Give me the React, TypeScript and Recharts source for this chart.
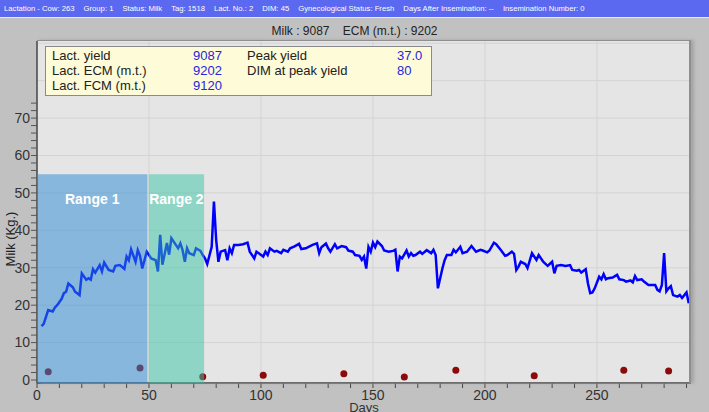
import React from "react";
import {
  ComposedChart,
  Line,
  Scatter,
  XAxis,
  YAxis,
  CartesianGrid,
  ReferenceArea,
} from "recharts";

// daily milk yield (kg)
const milkDays = [
  2, 3, 5, 7, 8, 9, 11, 12, 13, 14, 16, 17, 19, 20, 22, 23, 24, 25, 26, 28, 29, 30, 32, 34, 35, 37, 39, 40, 41, 42,
  44, 45, 46, 47, 49, 51, 53, 54, 55, 56, 58, 59, 60, 62, 63, 64, 65, 66, 67, 68, 70, 71, 73, 74, 75, 76, 78, 79, 80, 81,
  82, 84, 85, 86, 87, 88, 90, 92, 94, 95, 97, 98, 99, 101, 102, 103, 104, 106, 107, 109, 110, 112, 113, 115, 117, 118, 120, 123, 125, 126,
  127, 129, 130, 131, 133, 134, 136, 138, 139, 141, 142, 144, 145, 146, 147, 148, 149, 150, 151, 152, 154, 155, 157, 159, 160, 161, 162, 163, 165, 166,
  167, 168, 169, 171, 172, 174, 176, 177, 178, 179, 181, 182, 183, 185, 186, 187, 189, 190, 192, 194, 196, 198, 199, 201, 202, 204, 205, 207, 209, 210,
  212, 213, 214, 215, 216, 218, 219, 221, 223, 224, 226, 228, 230, 231, 232, 234, 236, 238, 239, 241, 242, 243, 245, 246, 247, 248, 249, 251, 252, 253,
  254, 255, 257, 259, 260, 262, 263, 265, 266, 267, 268, 270, 271, 273, 274, 276, 277, 278, 279, 280, 281, 282, 283, 284, 286, 287, 288, 290, 291,
];
const milkKg = [
  14.4, 15.0, 18.7, 18.3, 19.4, 20.0, 21.7, 23.2, 23.6, 25.8, 24.8, 23.6, 22.7, 28.5, 26.8, 27.2, 26.8, 29.6, 28.7, 30.7, 29.0, 31.4, 29.4, 29.0, 30.5, 30.7, 29.7, 33.0, 32.0, 34.9,
  31.6, 34.7, 33.2, 29.8, 34.3, 32.5, 32.0, 29.0, 38.8, 30.8, 36.6, 33.5, 37.9, 36.1, 35.2, 36.5, 34.7, 31.6, 35.2, 33.9, 33.4, 35.2, 34.5, 33.4, 32.5, 31.0, 35.6, 47.7, 37.4, 31.6,
  34.3, 34.7, 32.0, 35.2, 33.9, 36.1, 36.1, 36.3, 36.7, 34.3, 32.5, 34.3, 33.9, 33.0, 34.3, 33.4, 35.2, 34.3, 34.5, 33.9, 34.8, 34.3, 35.2, 35.7, 36.4, 35.0, 35.2, 36.1, 36.5, 33.9,
  35.5, 36.5, 35.2, 34.3, 36.3, 35.2, 35.8, 35.5, 34.6, 34.3, 33.4, 33.2, 32.1, 33.0, 29.8, 35.6, 34.3, 36.7, 35.5, 37.0, 35.8, 34.6, 34.3, 34.5, 34.8, 29.0, 33.0, 32.5, 34.6, 33.0,
  33.9, 33.2, 33.4, 34.3, 33.7, 34.7, 33.9, 34.8, 33.4, 24.5, 29.8, 32.0, 33.4, 33.4, 34.8, 34.1, 35.6, 33.9, 34.3, 35.8, 34.3, 34.8, 34.6, 34.1, 34.6, 36.7, 36.3, 34.8, 33.2, 33.4,
  34.3, 33.7, 29.4, 30.3, 31.6, 31.0, 29.9, 33.9, 32.1, 33.4, 31.6, 30.5, 31.6, 28.5, 30.5, 30.7, 30.5, 30.7, 29.4, 29.2, 29.4, 28.7, 29.6, 25.8, 23.2, 23.4, 24.5, 27.6, 26.9, 28.3,
  26.9, 27.2, 27.4, 28.1, 26.9, 26.7, 26.3, 26.6, 26.1, 27.8, 26.7, 26.9, 26.3, 25.4, 25.4, 25.4, 24.1, 23.7, 25.4, 33.9, 23.7, 24.5, 25.1, 22.7, 22.3, 22.7, 21.9, 23.4, 20.5,
];

// event markers near the bottom
const eventDays = [5, 46, 74, 101, 137, 164, 187, 222, 262, 282];
const eventLevels = [2.2, 3.2, 0.9, 1.25, 1.7, 0.8, 2.6, 1.15, 2.6, 2.4];

// shaded ranges
const rangeNames = ["Range 1", "Range 2"];
const rangeFrom = [0, 49.9];
const rangeTo = [49.3, 74.6];
const rangeColors = ["#2a8ad4", "#37c5a5"];
const rangeTop = 55;

const xTicks = Array.from({ length: 30 }, (_, i) => i * 10);
const yTicks = Array.from({ length: 38 }, (_, i) => i * 2);

const headerItems = [
  "Lactation - Cow: 263",
  "Group: 1",
  "Status: Milk",
  "Tag: 1518",
  "Lact. No.: 2",
  "DIM: 45",
  "Gynecological Status: Fresh",
  "Days After Insemination: --",
  "Insemination Number: 0",
];

const summaryLeft = [
  ["Lact. yield", "9087"],
  ["Lact. ECM (m.t.)", "9202"],
  ["Lact. FCM (m.t.)", "9120"],
];
const summaryRight = [
  ["Peak yield", "37.0"],
  ["DIM at peak yield", "80"],
];

const milkData = milkDays.map((d, i) => ({ day: d, milk: milkKg[i] }));
const eventData = eventDays.map((d, i) => ({ day: d, level: eventLevels[i] }));

const FONT = "'Liberation Sans', Arial, sans-serif";

const XTick = (props: any) => {
  const { x, y, payload } = props;
  if (payload.value % 50 !== 0) return null;
  return (
    <text x={x} y={y} dy="0.71em" textAnchor="middle" fontSize={14} fill="#333" fontFamily={FONT}>
      {payload.value}
    </text>
  );
};

const YTick = (props: any) => {
  const { x, y, payload } = props;
  if (payload.value % 10 !== 0) return null;
  return (
    <text x={x} y={y} dy="0.35em" textAnchor="end" fontSize={14} fill="#333" fontFamily={FONT}>
      {payload.value}
    </text>
  );
};

export default function App() {
  return (
    <div
      style={{
        position: "fixed",
        left: 0,
        top: 0,
        width: 709,
        height: 412,
        background: "#c1c1c1",
        overflow: "hidden",
        fontFamily: FONT,
      }}
    >
      <div
        style={{
          position: "absolute",
          left: 0,
          top: 0,
          width: 709,
          height: 18,
          background: "#5b68f0",
          borderBottom: "1px solid #e8e8ff",
          color: "#fff",
          fontSize: 7.7,
          lineHeight: "18px",
          paddingLeft: 4,
          whiteSpace: "nowrap",
          boxSizing: "border-box",
        }}
      >
        {headerItems.map((t) => (
          <span key={t} style={{ marginRight: 9 }}>
            {t}
          </span>
        ))}
      </div>
      <div
        style={{
          position: "absolute",
          left: 0,
          top: 24,
          width: 709,
          textAlign: "center",
          fontSize: 12,
          color: "#222",
          whiteSpace: "pre",
        }}
      >
        {"Milk : 9087    ECM (m.t.) : 9202"}
      </div>

      <ComposedChart
        width={709}
        height={412}
        margin={{ top: 41, right: 18, bottom: 0, left: 0 }}
        style={{ position: "absolute", left: 0, top: 0 }}
      >
        <CartesianGrid
          fill="#e5e5e5"
          stroke="#d4d4d4"
          horizontalValues={[10, 20, 30, 40, 50, 60, 70, 80, 90]}
          verticalValues={[50, 100, 150, 200, 250]}
        />
        <XAxis
          type="number"
          dataKey="day"
          domain={[0, 292]}
          ticks={xTicks}
          interval={0}
          height={29}
          tickSize={5}
          tickMargin={2}
          tick={<XTick />}
          stroke="#444"
          tickLine={{ stroke: "#444" }}
          axisLine={{ stroke: "#444", strokeWidth: 1.5 }}
          allowDataOverflow
          label={{ value: "Days", position: "bottom", offset: -9, fontSize: 13, fill: "#333" }}
        />
        <YAxis
          type="number"
          domain={[-0.8, 90.6]}
          ticks={yTicks}
          interval={0}
          width={37}
          tickSize={6}
          tickMargin={1}
          tick={<YTick />}
          stroke="#444"
          tickLine={{ stroke: "#555" }}
          axisLine={{ stroke: "#444", strokeWidth: 1.5 }}
          allowDataOverflow
          label={{
            content: () => (
              <text
                x={10}
                y={239}
                transform="rotate(-90 10 239)"
                textAnchor="middle"
                dominantBaseline="central"
                fontSize={13}
                fill="#222"
                fontFamily={FONT}
              >
                Milk (Kg.)
              </text>
            ),
          }}
        />
        <Line
          data={milkData}
          dataKey="milk"
          type="linear"
          stroke="#0000ff"
          strokeWidth={2.5}
          dot={false}
          activeDot={false}
          isAnimationActive={false}
        />
        <Scatter
          data={eventData}
          dataKey="level"
          fill="#8b0a0a"
          shape={(p: any) => <circle cx={p.cx} cy={p.cy} r={3.5} fill="#8b0a0a" />}
          isAnimationActive={false}
        />
        {rangeNames.map((name, i) => (
          <ReferenceArea
            key={name}
            x1={rangeFrom[i]}
            x2={rangeTo[i]}
            y1={-0.8}
            y2={rangeTop}
            fill={rangeColors[i]}
            fillOpacity={0.5}
            stroke="none"
            zIndex={700}
            label={{
              value: name,
              position: "insideTop",
              offset: 20,
              fill: "#fff",
              fontSize: 14,
              fontWeight: "bold",
              fontFamily: FONT,
            }}
          />
        ))}
      </ComposedChart>

      <div
        style={{
          position: "absolute",
          left: 37,
          top: 40,
          width: 654,
          height: 343,
          borderTop: "1px solid #8f8f8f",
          borderRight: "2px solid #8f8f8f",
          boxShadow: "3px 0 3px #a5a5a5",
          boxSizing: "border-box",
          pointerEvents: "none",
        }}
      />

      <div
        style={{
          position: "absolute",
          left: 45,
          top: 46,
          width: 387,
          height: 50,
          background: "#fdfbd8",
          border: "1px solid #8a8a8a",
          boxSizing: "border-box",
          fontSize: 13,
          lineHeight: "15px",
        }}
      >
        {summaryLeft.map(([label, val], i) => (
          <React.Fragment key={label}>
            <span style={{ position: "absolute", left: 6, top: 1 + i * 15, color: "#222" }}>{label}</span>
            <span style={{ position: "absolute", left: 147, top: 1 + i * 15, color: "#2626dc" }}>{val}</span>
          </React.Fragment>
        ))}
        {summaryRight.map(([label, val], i) => (
          <React.Fragment key={label}>
            <span style={{ position: "absolute", left: 201, top: 1 + i * 15, color: "#222" }}>{label}</span>
            <span style={{ position: "absolute", left: 351, top: 1 + i * 15, color: "#2626dc" }}>{val}</span>
          </React.Fragment>
        ))}
      </div>
    </div>
  );
}
